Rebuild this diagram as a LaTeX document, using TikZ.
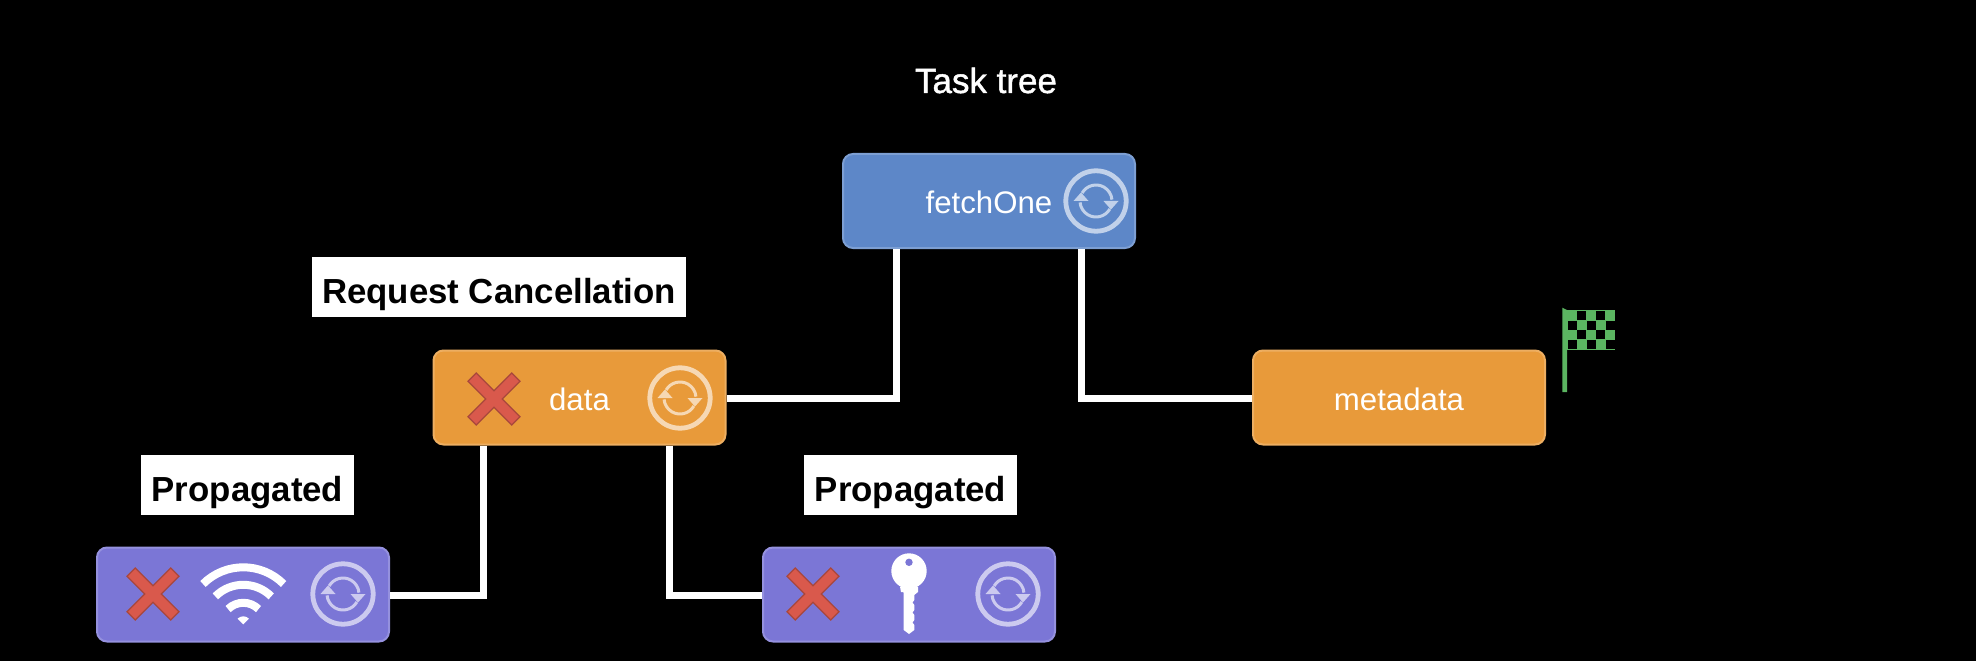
\documentclass[tikz,border=0pt]{standalone}
\usepackage{fontspec}
\setmainfont{Liberation Sans}
\newfontfamily\mediumfont{Liberation Sans}[FakeBold=1.2]
\definecolor{taskblue}{HTML}{5D87C8}
\definecolor{taskorange}{HTML}{E89A3A}
\definecolor{taskpurple}{HTML}{7B76D6}
\definecolor{crossred}{HTML}{D9594C}
\definecolor{crossedge}{HTML}{A8473C}
\definecolor{flaggreen}{HTML}{5BB561}
\tikzset{
  taskbox/.style={draw=#1!80!white, fill=#1, line width=1pt, rounded corners=5pt,
    minimum width=146pt, minimum height=47pt, inner sep=0pt, text=white,
    text height=12.5pt, text depth=0pt, font=\fontsize{15.6}{18}\selectfont},
  labelbox/.style={fill=white, text=black, inner sep=0pt, minimum height=30pt,
    text depth=0pt, font=\fontsize{17.4}{20}\bfseries},
  wire/.style={draw=white, line width=3.5pt}
}
\begin{document}
\begin{tikzpicture}[x=0.5pt,y=0.5pt]
  \def\syncicon(#1){%
    \begin{scope}[shift={(#1)},opacity=0.62]
    \draw[white,line width=2.4pt] (0,0) circle (15.1pt);
    \foreach \a in {0,180}{
      \begin{scope}[rotate=\a]
      \draw[white,line width=1.5pt] (150:8pt) arc (150:5:8pt);
      \fill[white] (7.5,0) -- (22.5,0) -- (15,-8.5) -- cycle;
      \end{scope}
    }
    \end{scope}
  }
  \def\crossicon(#1){%
    \draw[crossedge,fill=crossred,line width=0.6pt,shift={(#1)}]
      (26,-17.7) -- (17.7,-26) -- (0,-8.3) -- (-17.7,-26) -- (-26,-17.7) -- (-8.3,0)
      -- (-26,17.7) -- (-17.7,26) -- (0,8.3) -- (17.7,26) -- (26,17.7) -- (8.3,0) -- cycle;
  }

  \useasboundingbox (0,0) rectangle (1976,660);
  \fill[black] (-5,-5) rectangle (1981,665);

  \node[font=\fontsize{17.5}{20}\mediumfont, text=white, anchor=base] (title) at (986,567) {Task tree};

  \node[taskbox=taskblue] (fetchOne) at (989,459) {fetchOne};
  \node[taskbox=taskorange] (data) at (579.5,262.5) {data};
  \node[taskbox=taskorange] (metadata) at (1399,262.5) {metadata};
  \node[taskbox=taskpurple] (wifi) at (243,65.5) {};
  \node[taskbox=taskpurple] (key) at (909,65.5) {};

  \node[labelbox, minimum width=187pt, text height=16pt] (request) at (499,373) {Request Cancellation};
  \node[labelbox, minimum width=106.5pt, text height=17pt] (propLeft) at (247.5,175.5) {Propagated};
  \node[labelbox, minimum width=106.5pt, text height=17pt] (propRight) at (910.5,175.5) {Propagated};

  \draw[wire] ([yshift=-0.5pt]data.east) -| ([xshift=-46.5pt]fetchOne.south);
  \draw[wire] ([xshift=46pt]fetchOne.south) |- ([yshift=-0.5pt]metadata.west);
  \draw[wire] ([yshift=-0.5pt]wifi.east) -| ([xshift=-48pt]data.south);
  \draw[wire] ([xshift=45pt]data.south) |- ([yshift=-0.5pt]key.west);

  \syncicon(1096,459)
  \syncicon(680,262)
  \syncicon(343,66)
  \syncicon(1008,66)

  \crossicon(494,261)
  \crossicon(153,66)
  \crossicon(813,66)

  % wifi
  \begin{scope}[shift={(243.3,35.7)}]
    \foreach \r in {28.5,19.75,10.75}
      \draw[white,line width=4pt] (45:\r pt) arc (45:135:\r pt);
    \fill[white] (0,0) -- (45:8) arc (45:135:8) -- cycle;
  \end{scope}

  % key
  \begin{scope}[shift={(909,89)}]
    \fill[white] (0,0) circle (8.85pt);
    \fill[white] (-9,-15.7) -- (-8,-21) -- (-5.3,-21.3) -- (-5.3,-59) -- (0,-63) -- (5.3,-59)
      -- (5.3,-54) -- (3.5,-51.5) -- (5.3,-49) -- (5.3,-44) -- (3.5,-41.5) -- (5.3,-39)
      -- (5.3,-34) -- (3.5,-31.5) -- (5.3,-29) -- (5.3,-24) -- (9,-21) -- (9,-15.7) -- cycle;
    \fill[taskpurple] (0,8.7) circle (1.85pt);
  \end{scope}

  % flag
  \begin{scope}[shift={(1567,350)}]
    \fill[flaggreen] (-4.7,2.3) -- (0,0) -- (0,-82) -- (-4.7,-82) -- cycle;
    \fill[flaggreen] (0,0) rectangle (48,-40);
    \foreach \i in {0,...,4}
      \foreach \j in {0,...,3}{
        \pgfmathparse{int(mod(\i+\j,2))}
        \ifnum\pgfmathresult=1
          \fill[black] (\i*9.5+0.5,-\j*9.6-1) rectangle ++(9.2,-9.2);
        \fi
      }
  \end{scope}
\end{tikzpicture}
\end{document}
